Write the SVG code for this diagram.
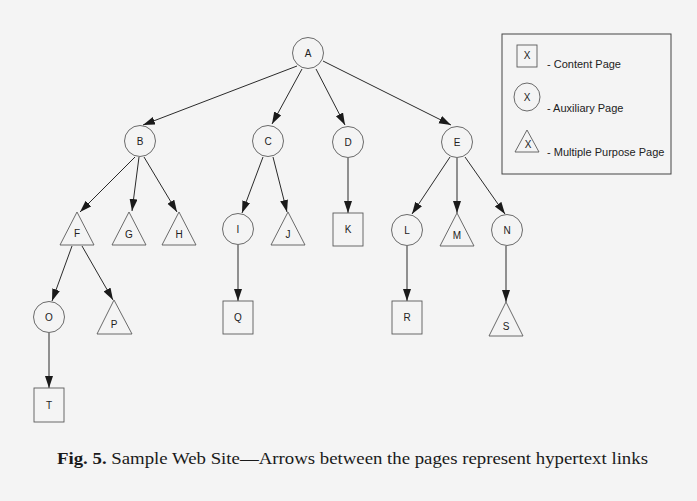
<svg xmlns="http://www.w3.org/2000/svg" width="697" height="501" viewBox="0 0 697 501">
  <style>
    .shape { fill: none; stroke: #5a5a5a; stroke-width: 0.9; }
    .lbl { font-family: "Liberation Sans", Arial, sans-serif; font-size: 10px; fill: #222; text-anchor: middle; }
    .leg { font-family: "Liberation Sans", Arial, sans-serif; font-size: 11px; fill: #222; }
    .edge { stroke: #2a2a2a; stroke-width: 1; fill: none; marker-end: url(#arrow); }
    .cap { font-family: "Liberation Serif", "Times New Roman", serif; font-size: 17px; fill: #1a1a1a; }
  </style>
  <defs>
    <marker id="arrow" markerUnits="userSpaceOnUse" markerWidth="13" markerHeight="9" refX="12" refY="4" orient="auto">
      <path d="M0,0 L12,4 L0,8 Z" fill="#1a1a1a"/>
    </marker>
  </defs>
  <rect width="697" height="501" fill="#f4f4f4"/>

  <!-- links between pages -->
  <g id="connectors">
    <line class="edge" x1="297" y1="66" x2="143" y2="125"/>
    <line class="edge" x1="302" y1="69" x2="272" y2="124"/>
    <line class="edge" x1="316" y1="69" x2="345" y2="125"/>
    <line class="edge" x1="323" y1="61" x2="451" y2="125"/>
    <line class="edge" x1="135" y1="157" x2="80" y2="212"/>
    <line class="edge" x1="139" y1="157" x2="132" y2="211"/>
    <line class="edge" x1="144" y1="157" x2="177" y2="212"/>
    <line class="edge" x1="263" y1="157" x2="242" y2="213"/>
    <line class="edge" x1="273" y1="157" x2="287" y2="212"/>
    <line class="edge" x1="348" y1="158" x2="348" y2="213"/>
    <line class="edge" x1="450" y1="157" x2="412" y2="214"/>
    <line class="edge" x1="457" y1="158" x2="457" y2="213"/>
    <line class="edge" x1="465" y1="157" x2="505" y2="214"/>
    <line class="edge" x1="72" y1="246" x2="52" y2="301"/>
    <line class="edge" x1="82" y1="246" x2="113" y2="300"/>
    <line class="edge" x1="238" y1="245" x2="238" y2="301"/>
    <line class="edge" x1="407" y1="246" x2="407" y2="301"/>
    <line class="edge" x1="506" y1="246" x2="506" y2="302"/>
    <line class="edge" x1="49" y1="333" x2="49" y2="388"/>
  </g>

  <!-- auxiliary pages (circles) -->
  <g id="node-A"><circle class="shape" cx="308" cy="53" r="15.5"/><text class="lbl" x="308" y="57">A</text></g>
  <g id="node-B"><circle class="shape" cx="140" cy="141" r="15.5"/><text class="lbl" x="140" y="145">B</text></g>
  <g id="node-C"><circle class="shape" cx="268" cy="141" r="15.5"/><text class="lbl" x="268" y="145">C</text></g>
  <g id="node-D"><circle class="shape" cx="348" cy="142" r="15.5"/><text class="lbl" x="348" y="146">D</text></g>
  <g id="node-E"><circle class="shape" cx="457" cy="142" r="15.5"/><text class="lbl" x="457" y="146">E</text></g>
  <g id="node-I"><circle class="shape" cx="238" cy="229" r="15.5"/><text class="lbl" x="238" y="233">I</text></g>
  <g id="node-L"><circle class="shape" cx="407" cy="230" r="15.5"/><text class="lbl" x="407" y="234">L</text></g>
  <g id="node-N"><circle class="shape" cx="507" cy="230" r="15.5"/><text class="lbl" x="507" y="234">N</text></g>
  <g id="node-O"><circle class="shape" cx="49" cy="317" r="15.5"/><text class="lbl" x="49" y="321">O</text></g>

  <!-- multiple purpose pages (triangles) -->
  <g id="node-F"><polygon class="shape" points="77,212 60,245 94,245"/><text class="lbl" x="77" y="237">F</text></g>
  <g id="node-G"><polygon class="shape" points="129,212 112,245 146,245"/><text class="lbl" x="129" y="238">G</text></g>
  <g id="node-H"><polygon class="shape" points="179,212 162,245 196,245"/><text class="lbl" x="179" y="238">H</text></g>
  <g id="node-J"><polygon class="shape" points="288,212 271,245 305,245"/><text class="lbl" x="288" y="238">J</text></g>
  <g id="node-M"><polygon class="shape" points="457,213 440,246 474,246"/><text class="lbl" x="457" y="239">M</text></g>
  <g id="node-P"><polygon class="shape" points="114,300 97,334 132,334"/><text class="lbl" x="114" y="328">P</text></g>
  <g id="node-S"><polygon class="shape" points="506,302 489,336 523,336"/><text class="lbl" x="506" y="330">S</text></g>

  <!-- content pages (squares) -->
  <g id="node-K"><rect class="shape" x="333" y="213" width="30" height="33"/><text class="lbl" x="348" y="233">K</text></g>
  <g id="node-Q"><rect class="shape" x="223" y="301" width="30" height="33"/><text class="lbl" x="238" y="321">Q</text></g>
  <g id="node-R"><rect class="shape" x="392" y="301" width="30" height="33"/><text class="lbl" x="407" y="321">R</text></g>
  <g id="node-T"><rect class="shape" x="34" y="388" width="30" height="34"/><text class="lbl" x="49" y="409">T</text></g>

  <!-- legend -->
  <g id="legend">
    <rect x="502" y="34" width="169" height="140" fill="none" stroke="#444" stroke-width="1"/>
    <rect class="shape" x="517" y="45" width="20" height="22"/>
    <text class="lbl" x="527" y="59">X</text>
    <text class="leg" x="547" y="68">- Content Page</text>
    <ellipse class="shape" cx="527" cy="97" rx="13" ry="14"/>
    <text class="lbl" x="527" y="101">X</text>
    <text class="leg" x="547" y="112">- Auxiliary Page</text>
    <polygon class="shape" points="527,130 515,152 539,152"/>
    <text class="lbl" x="528" y="148">X</text>
    <text class="leg" x="547" y="156">- Multiple Purpose Page</text>
  </g>

  <!-- caption -->
  <text class="cap" x="57" y="464" textLength="591" lengthAdjust="spacingAndGlyphs"><tspan font-weight="bold">Fig. 5.</tspan> Sample Web Site—Arrows between the pages represent hypertext links</text>
</svg>
